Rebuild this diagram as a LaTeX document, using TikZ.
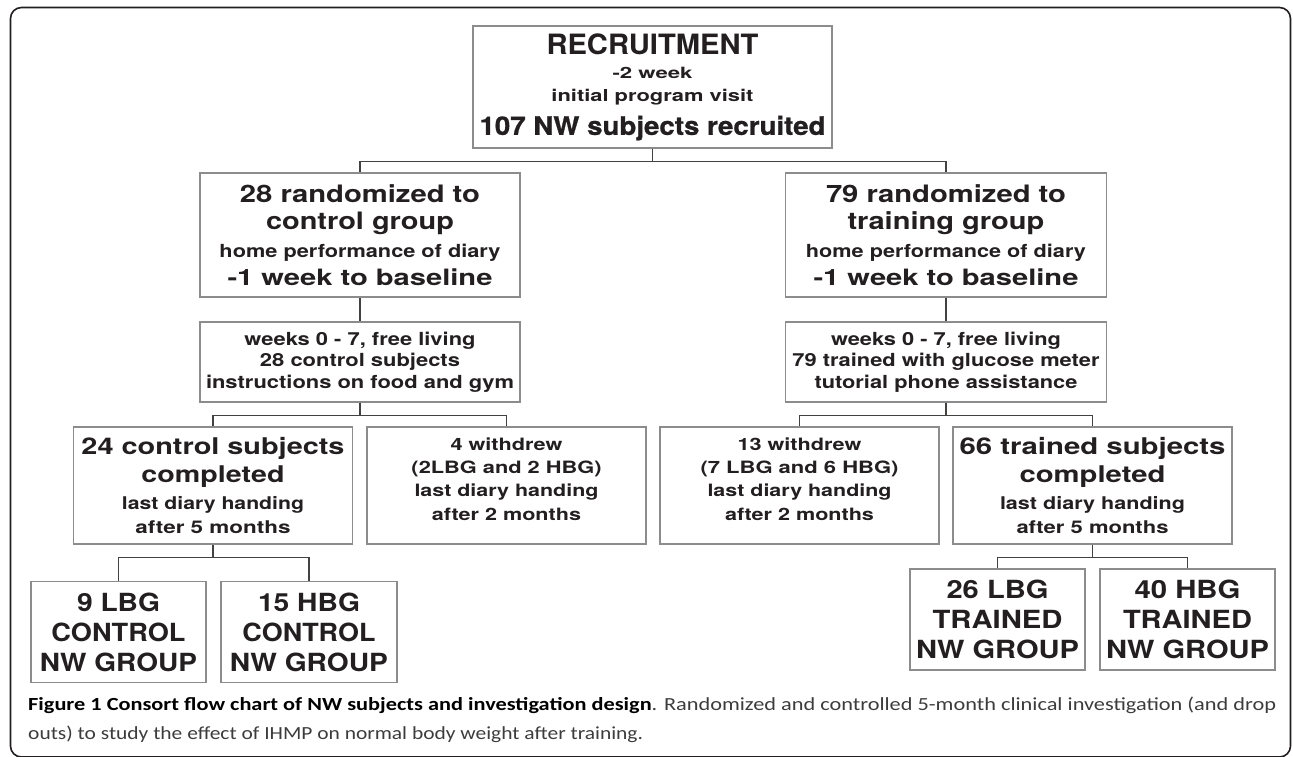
\documentclass[tikz,border=0pt]{standalone}
\usepackage{fontspec}
\setmainfont{TeX Gyre Heros}
\newfontfamily\capfont{Carlito}
\newfontfamily\halfbold[FakeBold=0.8]{TeX Gyre Heros}
\usepackage{graphicx}
\usepackage{xcolor}
\usetikzlibrary{positioning}

\definecolor{inkgray}{HTML}{231F20}
\definecolor{boxgray}{HTML}{8C8C8C}
\definecolor{capgray}{HTML}{3C3C3C}

% una riga: corpo, larghezza, testo
\newcommand{\bxline}[3]{\resizebox{#2pt}{\height}{\fontsize{#1pt}{#1pt}\selectfont #3}}

\begin{document}
\begin{tikzpicture}[x=1pt,y=-1pt,on grid,
    box/.style={draw=boxgray,line width=1.1pt,fill=white,text=inkgray,align=center,inner sep=0pt},
    recbox/.style={box,minimum width=359pt,minimum height=122pt,font=\bfseries\fontsize{16}{23.5}\selectfont},
    armbox/.style={box,minimum width=320pt,minimum height=124pt,font=\bfseries\fontsize{18}{27.8}\selectfont},
    weekbox/.style={box,minimum width=320pt,minimum height=80pt,font=\bfseries\fontsize{18}{21.7}\selectfont},
    endbox/.style={box,minimum width=279pt,minimum height=117pt,font=\bfseries\fontsize{17}{24}\selectfont},
    outbox/.style={box,minimum width=279pt,minimum height=117pt,font=\bfseries\fontsize{17}{23.3}\selectfont},
    grpbox/.style={box,minimum width=175pt,minimum height=101pt,font=\bfseries\fontsize{25}{30}\selectfont},
    link/.style={draw=inkgray!85,line width=1.1pt},
    frame/.style={draw=inkgray,line width=1.6pt,rounded corners=11pt}]
   \useasboundingbox (0,0) rectangle (1293,756);
   \draw[frame] (10.5,7.5) rectangle (1290.5,757);

   % Reclutamento
   \node[recbox] (rec) at (652.5,87)
     {\bxline{28}{212}{RECRUITMENT}\\[0.5pt] \bxline{15.5}{80}{-2 week}\\
      \bxline{16.5}{202}{initial program visit}\\[9.5pt]
      \bxline{25.5}{346}{\halfbold 107 NW subjects recruited}};

   % Gruppo di controllo
   \node[armbox] (ctrl) [below left=148pt and 292.5pt of rec]
     {\bxline{24}{240}{28 randomized to}\\ \bxline{24}{188}{control group}\\
      \bxline{18}{281}{home performance of diary}\\ \bxline{22.5}{265}{-1 week to baseline}};
   \node[weekbox] (cweek) [below=127pt of ctrl]
     {\bxline{18}{231}{weeks 0 - 7, free living}\\ \bxline{18}{200}{28 control subjects}\\
      \bxline{18}{308}{instructions on food and gym}};
   \node[endbox] (cdone) [below left=123.5pt and 147pt of cweek]
     {\bxline{23}{263}{24 control subjects}\\[4.3pt] \bxline{23}{143}{completed}\\[3pt]
      \bxline{17.5}{182}{last diary handing}\\ \bxline{17.5}{155}{after 5 months}};
   \node[outbox] (cout) [below right=123.5pt and 146.5pt of cweek]
     {\bxline{17}{112}{4 withdrew}\\ \bxline{17}{190}{(2LBG and 2 HBG)}\\
      \bxline{17}{184}{last diary handing}\\ \bxline{17}{149}{after 2 months}\rule[-13pt]{0pt}{0pt}};
   \node[grpbox] (clbg) [below left=146.5pt and 94.5pt of cdone]
     {\bxline{25}{83}{9 LBG}\\ \bxline{25}{134}{CONTROL}\\ \bxline{25}{157}{NW GROUP}};
   \node[grpbox,minimum width=176pt] (chbg) [below right=146.5pt and 96pt of cdone]
     {\bxline{25}{102}{15 HBG}\\ \bxline{25}{133}{CONTROL}\\ \bxline{25}{158}{NW GROUP}};

   % Gruppo addestrato
   \node[armbox,minimum width=321pt] (train) [below right=148pt and 293.5pt of rec]
     {\bxline{24}{240}{79 randomized to}\\ \bxline{24}{197}{training group}\\
      \bxline{18}{280}{home performance of diary}\\ \bxline{22.5}{265}{-1 week to baseline}};
   \node[weekbox,minimum width=321pt] (tweek) [below=127pt of train]
     {\bxline{18}{230}{weeks 0 - 7, free living}\\ \bxline{18}{307}{79 trained with glucose meter}\\
      \bxline{18}{263}{tutorial phone assistance}};
   \node[outbox] (tout) [below left=123.5pt and 146.5pt of tweek]
     {\bxline{17}{124}{13 withdrew}\\ \bxline{17}{198}{(7 LBG and 6 HBG)}\\
      \bxline{17}{184}{last diary handing}\\ \bxline{17}{149}{after 2 months}\rule[-13pt]{0pt}{0pt}};
   \node[endbox] (tdone) [below right=123.5pt and 146.5pt of tweek]
     {\bxline{23}{266}{66 trained subjects}\\[4.3pt] \bxline{23}{146}{completed}\\[3pt]
      \bxline{17.5}{185}{last diary handing}\\ \bxline{17.5}{152}{after 5 months}};
   \node[grpbox] (tlbg) [below left=134pt and 95pt of tdone]
     {\bxline{25}{102}{26 LBG}\\ \bxline{25}{130}{TRAINED}\\ \bxline{25}{163}{NW GROUP}};
   \node[grpbox] (thbg) [below right=134pt and 95pt of tdone]
     {\bxline{25}{106}{40 HBG}\\ \bxline{25}{129}{TRAINED}\\ \bxline{25}{163}{NW GROUP}};

   % Collegamenti
   \draw[link] (ctrl) -- (cweek);
   \draw[link] (train) -- (tweek);
   \foreach \up/\down in {rec/ctrl,rec/train,cweek/cdone,cweek/cout,tweek/tout,tweek/tdone,
                          cdone/clbg,cdone/chbg,tdone/tlbg,tdone/thbg}
     \draw[link] (\up.south) -- ++(0,12.5) -| (\down.north);

   % Didascalia
   \node[anchor=north west,inner sep=0pt,text width=1248pt,align=left,text=capgray,
         font=\capfont\fontsize{18.5}{29}\selectfont] (cap) at (28,697)
     {\spaceskip=0pt \xspaceskip=0pt
      \resizebox{1248pt}{\height}{\textcolor{black}{\bfseries Figure 1 Consort flow chart of NW subjects and investigation design}. Randomized and controlled 5-month clinical investigation (and drop}\\
      \scalebox{1.16}[1]{outs) to study the effect of IHMP on normal body weight after training.}};
\end{tikzpicture}
\end{document}
